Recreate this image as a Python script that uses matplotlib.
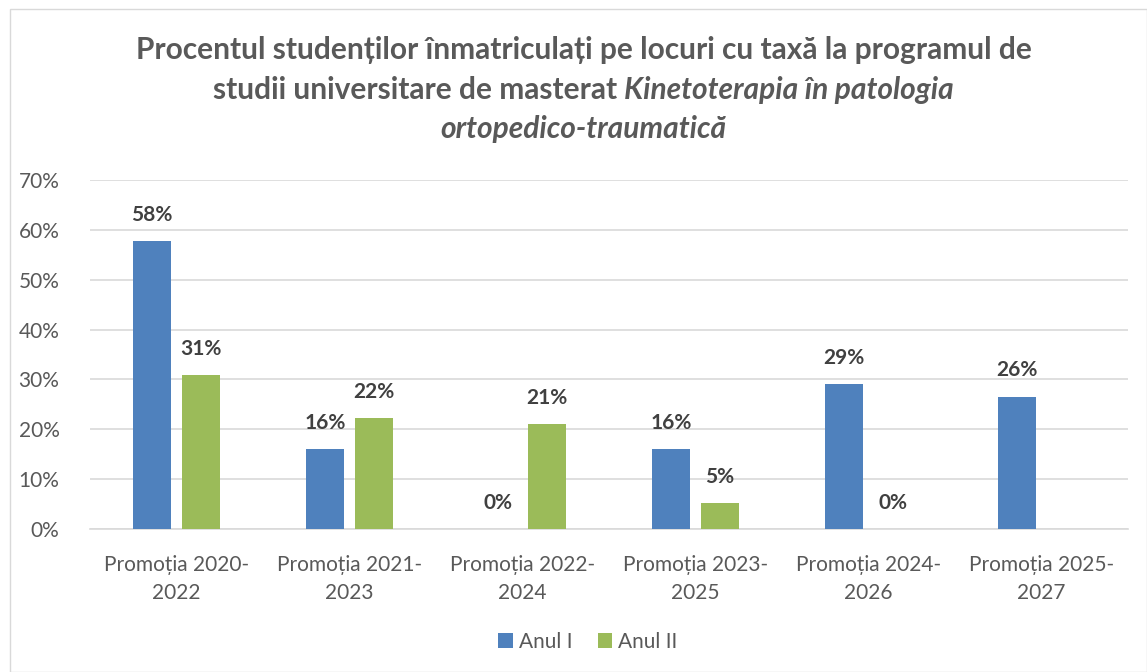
import matplotlib
matplotlib.use("Agg")
import matplotlib.pyplot as plt
import numpy as np
from matplotlib.patches import Rectangle
from matplotlib.ticker import FuncFormatter

plt.rcParams['font.family'] = ['Lato', 'DejaVu Sans']

categories = ["Promoția 2020-\n2022", "Promoția 2021-\n2023", "Promoția 2022-\n2024",
              "Promoția 2023-\n2025", "Promoția 2024-\n2026", "Promoția 2025-\n2027"]
anul_I = [57.7, 16.0, 0.0, 16.0, 29.0, 26.5]
anul_II = [30.8, 22.2, 21.0, 5.2, 0.0, np.nan]
labels_I = ["58%", "16%", "0%", "16%", "29%", "26%"]
labels_II = ["31%", "22%", "21%", "5%", "0%", ""]
series_names = ["Anul I", "Anul II"]
yticks = [0, 10, 20, 30, 40, 50, 60, 70]

blue = "#4F81BD"
green = "#9BBB59"
text_gray = "#595959"
label_dark = "#404040"

W, H = 1147, 672
fig = plt.figure(figsize=(W / 100, H / 100), dpi=100)
fig.patch.set_facecolor("white")
fig.patches.append(Rectangle((10 / W, 0), (W - 10) / W, (H - 9) / H, transform=fig.transFigure,
                             fill=False, edgecolor="#D9D9D9", linewidth=1.0))

ax = fig.add_axes([90 / W, 1 - 529 / H, (1128 - 90) / W, (529 - 180) / H])
x = np.arange(len(categories))
bw = 0.22
off = 0.1416
b1 = ax.bar(x - off, anul_I, bw, color=blue, label=series_names[0], zorder=3)
b2 = ax.bar(x + off, anul_II, bw, color=green, label=series_names[1], zorder=3)

lsize = 15
for xs, vals, labs in [(x - off, anul_I, labels_I), (x + off, anul_II, labels_II)]:
    for xi, v, lab in zip(xs, vals, labs):
        if lab:
            ax.annotate(lab, (xi, v), xytext=(0, 19), textcoords="offset points",
                        ha="center", va="center", fontsize=lsize,
                        fontweight="bold", color=label_dark)

ax.set_ylim(0, 70)
ax.set_xlim(-0.5, len(categories) - 0.5)
ax.set_yticks(yticks)
ax.yaxis.set_major_formatter(FuncFormatter(lambda v, p: f"{int(v)}%"))
ax.set_xticks(x)
ax.set_xticklabels(categories, fontsize=15, color=text_gray, linespacing=1.5)
ax.tick_params(axis="y", labelsize=15, labelcolor=text_gray, length=0, pad=22)
ax.tick_params(axis="x", length=0, pad=19)
ax.grid(axis="y", color="#D9D9D9", linewidth=1.2, zorder=0)
for s in ["top", "right", "left"]:
    ax.spines[s].set_visible(False)
ax.spines["bottom"].set_color("#D9D9D9")
ax.spines["bottom"].set_linewidth(1.2)

leg = fig.legend(handles=[b1, b2], labels=series_names, loc="center",
                 bbox_to_anchor=(588 / W, 1 - 642 / H), ncol=2, frameon=False,
                 fontsize=15, handlelength=0.7, handleheight=0.7, handletextpad=0.3,
                 columnspacing=1.2)
for t in leg.get_texts():
    t.set_color(text_gray)

# Title with mixed styles
tsize = 21.5
cx = 0.5 * W + 10
fig.canvas.draw()
r = fig.canvas.get_renderer()

def place_line(parts, y_px):
    objs = []
    for s, style in parts:
        t = fig.text(0, 1 - y_px / H, s, fontsize=tsize, fontweight="bold", fontstyle=style,
                     color=text_gray, ha="left", va="center")
        objs.append(t)
    widths = [o.get_window_extent(renderer=r).width for o in objs]
    total = sum(widths)
    start = cx - total / 2
    for o, w in zip(objs, widths):
        o.set_x(start / W)
        start += w

place_line([("Procentul studenților înmatriculați pe locuri cu taxă la programul de", "normal")], 50)
place_line([("studii universitare de masterat ", "normal"), ("Kinetoterapia în patologia", "italic")], 90)
place_line([("ortopedico-traumatică", "italic")], 129)

fig.savefig("out.png", dpi=100, facecolor="white")
